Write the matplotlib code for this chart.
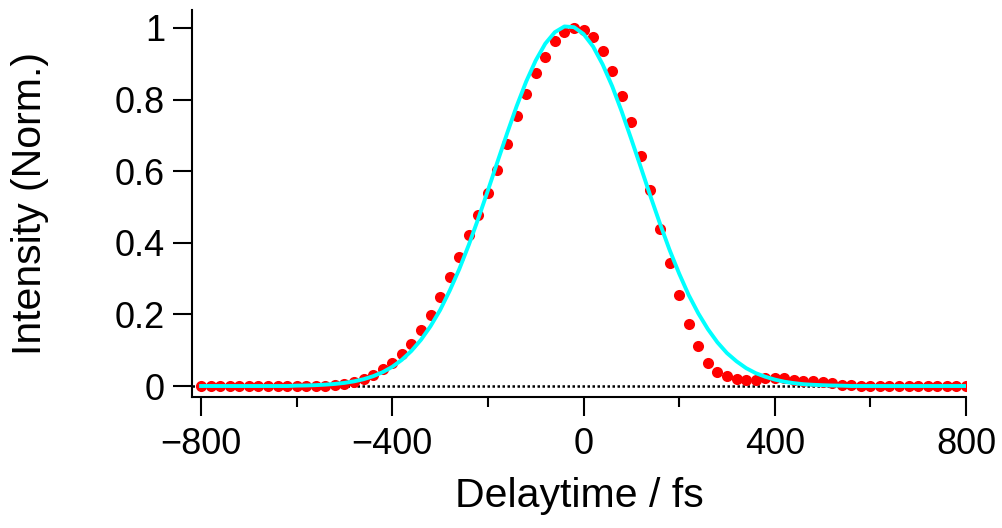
import matplotlib
matplotlib.use('Agg')
import matplotlib.pyplot as plt
import numpy as np
from matplotlib.ticker import MultipleLocator

plt.rcParams['font.family'] = ['Liberation Sans', 'DejaVu Sans']

# delay axis, 20 fs steps
delay = np.arange(-800, 801, 20)

# measured points (normalized)
signal = [0.0, 0.0, 0.0, 0.0, 0.0, 0.0, 0.0, 0.0, 0.0, 0.0, 0.0, 0.0, 0.0,
          0.001, 0.003, 0.006, 0.011, 0.019, 0.031, 0.047, 0.064, 0.089, 0.118,
          0.156, 0.198, 0.248, 0.305, 0.361, 0.421, 0.477, 0.538, 0.603, 0.676,
          0.753, 0.816, 0.874, 0.919, 0.962, 0.988, 1.0, 0.993, 0.975, 0.936,
          0.881, 0.811, 0.737, 0.642, 0.547, 0.438, 0.344, 0.253, 0.172, 0.111,
          0.065, 0.039, 0.027, 0.020, 0.018, 0.018, 0.022, 0.023, 0.021, 0.018,
          0.015, 0.013, 0.011, 0.008, 0.004, 0.002,
          0.0, 0.0, 0.0, 0.0, 0.0, 0.0, 0.0, 0.0, 0.0, 0.0, 0.0, 0.0]

# fit curve
fit = [0.0, 0.0, 0.0, 0.0, 0.0, 0.0, 0.0, 0.0, 0.0, 0.0,
       0.001, 0.0015, 0.0024, 0.0038, 0.0058, 0.0087, 0.013, 0.019, 0.0274,
       0.0387, 0.0536, 0.0731, 0.098, 0.129, 0.167, 0.212, 0.266, 0.326, 0.394,
       0.468, 0.546, 0.626, 0.705, 0.781, 0.850, 0.909, 0.956, 0.988, 1.004,
       1.002, 0.983, 0.948, 0.898, 0.837, 0.766, 0.689, 0.610, 0.530, 0.453,
       0.380, 0.314, 0.254, 0.203, 0.159, 0.122, 0.092, 0.069, 0.050, 0.036,
       0.026, 0.018, 0.012, 0.008, 0.005, 0.0034, 0.0022, 0.0014, 0.0009,
       0.0, 0.0, 0.0, 0.0, 0.0, 0.0, 0.0, 0.0, 0.0, 0.0, 0.0, 0.0, 0.0]

fig = plt.figure(figsize=(10.03, 5.28), dpi=100)
ax = fig.add_axes([0.1914, 0.2481, 0.7717, 0.733])

ax.axhline(0, color='black', lw=1.8, ls=(0, (1, 1)), zorder=1)
ax.plot(delay, signal, 'o', color='red', markersize=8, markeredgewidth=0, zorder=2)
ax.plot(delay, fit, '-', color='cyan', lw=2.8, zorder=3)

ax.set_xlim(-819, 800)
ax.set_ylim(-0.0307, 1.05)

ax.spines['top'].set_visible(False)
ax.spines['right'].set_visible(False)
ax.spines['left'].set_linewidth(1.5)
ax.spines['bottom'].set_linewidth(1.5)

ax.set_xticks([-800, -400, 0, 400, 800])
ax.xaxis.set_minor_locator(MultipleLocator(200))
ax.set_yticks([0, 0.2, 0.4, 0.6, 0.8, 1])
ax.set_yticklabels(['0', '0.2', '0.4', '0.6', '0.8', '1'])

ax.tick_params(axis='both', which='major', direction='out', length=13.5, width=1.5,
               labelsize=26)
ax.tick_params(axis='x', which='major', pad=8)
ax.tick_params(axis='y', which='major', pad=6)
ax.tick_params(axis='x', which='minor', direction='out', length=7, width=1.5)

ax.set_xlabel('Delaytime / fs', fontsize=29.5, labelpad=11)
ax.set_ylabel('Intensity (Norm.)', fontsize=29.5, labelpad=47)

plt.savefig('out.png', dpi=100)
